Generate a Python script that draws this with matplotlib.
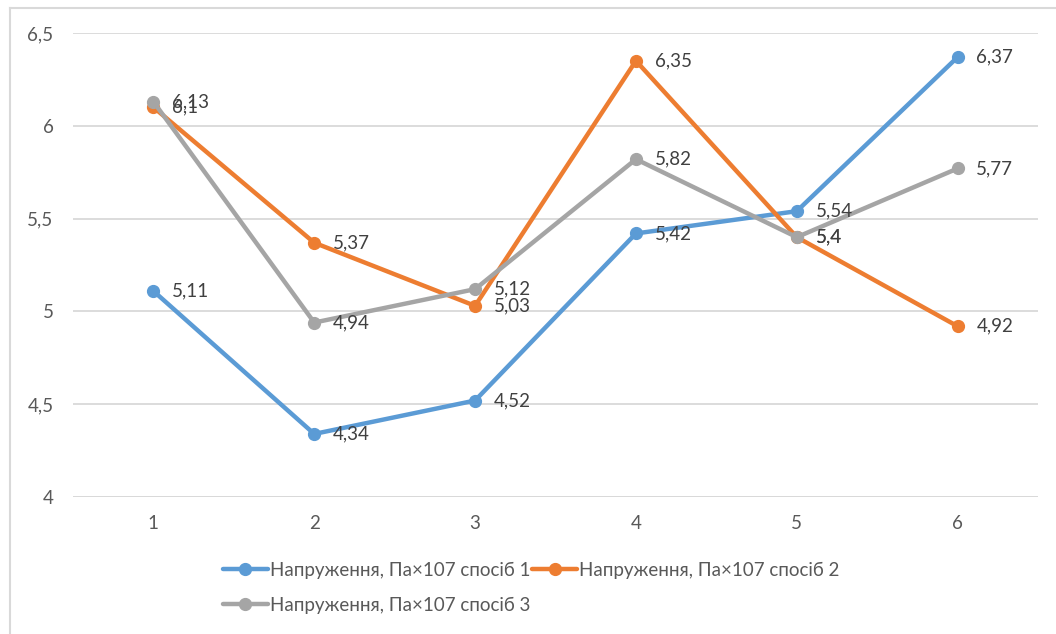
import matplotlib.pyplot as plt
from matplotlib.lines import Line2D

plt.rcParams['font.family'] = ['Lato', 'DejaVu Sans']

# stress values, Pa x 10^7, for six samples
samples = [1, 2, 3, 4, 5, 6]
method1 = [5.11, 4.34, 4.52, 5.42, 5.54, 6.37]
method2 = [6.10, 5.37, 5.03, 6.35, 5.40, 4.92]
method3 = [6.13, 4.94, 5.12, 5.82, 5.40, 5.77]
names = ['Напруження, Па×107 спосіб 1',
         'Напруження, Па×107 спосіб 2',
         'Напруження, Па×107 спосіб 3']
colors = ['#5B9BD5', '#ED7D31', '#A5A5A5']


def fmt(v):
    return ('%g' % v).replace('.', ',')


def main():
    fig = plt.figure(figsize=(10.56, 6.34), dpi=100)
    ax = fig.add_axes([0.0691, 0.216, 0.9139, 0.732])

    handles = []
    for vals, name, c in zip([method1, method2, method3], names, colors):
        h, = ax.plot(samples, vals, color=c, lw=3.2, marker='o', ms=8.5,
                     solid_capstyle='round', label=name, zorder=3)
        handles.append(h)

    for vals in [method1, method2, method3]:
        for x, v in zip(samples, vals):
            ax.annotate(fmt(v), (x, v), xytext=(13.5, 0), textcoords='offset points',
                        va='center', ha='left', fontsize=13.5, color='#404040',
                        zorder=5)

    ax.set_xlim(0.5, 6.5)
    ax.set_ylim(4, 6.5)
    ax.set_xticks(samples)
    ax.set_yticks([4, 4.5, 5, 5.5, 6, 6.5])
    ax.set_yticklabels([fmt(t) for t in [4, 4.5, 5, 5.5, 6, 6.5]])
    ax.tick_params(length=0, labelsize=13.5, labelcolor='#595959')
    ax.tick_params(axis='y', pad=14)
    ax.tick_params(axis='x', pad=13)
    ax.grid(axis='y', color='#D9D9D9', lw=1.3)
    ax.set_axisbelow(True)
    for s in ax.spines.values():
        s.set_visible(False)
    ax.axhline(4, color='#D9D9D9', lw=1.3, zorder=1)

    # two entries in the first row, the third below the first one
    order = [0, 2, 1]
    ax.legend([handles[i] for i in order], [names[i] for i in order],
              ncol=2, loc='upper left', bbox_to_anchor=(0.195, 0.141),
              bbox_transform=fig.transFigure, frameon=False, fontsize=13.5,
              handlelength=2.4, handletextpad=0.1, columnspacing=0.1,
              labelspacing=0.95, labelcolor='#595959')

    # chart frame
    fig.add_artist(Line2D([0.0095, 0.0095], [0, 0.987], color='#D9D9D9', lw=1.5))
    fig.add_artist(Line2D([0.0095, 1.0], [0.987, 0.987], color='#D9D9D9', lw=1.5))

    fig.savefig('out.png', dpi=100)


if __name__ == '__main__':
    main()
